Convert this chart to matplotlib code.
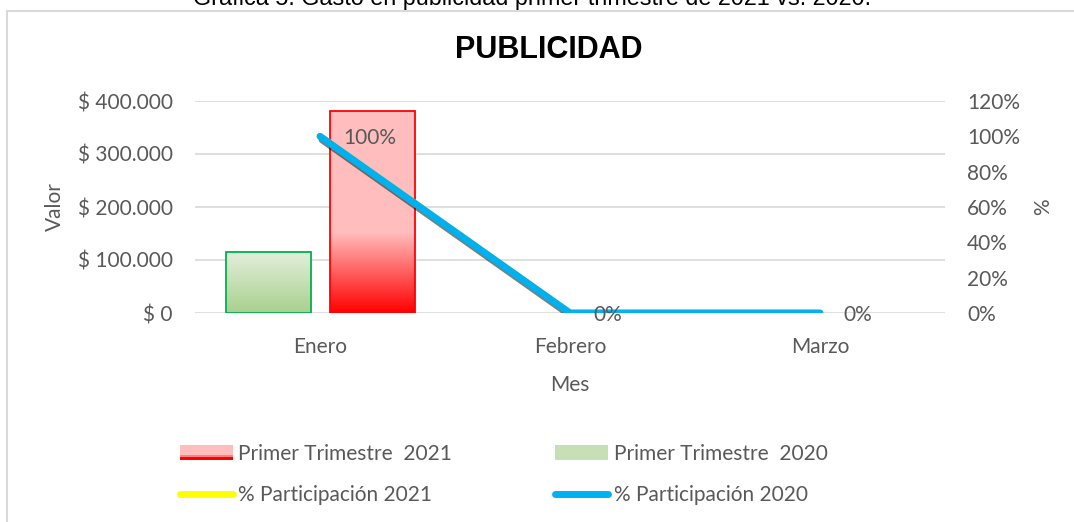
import numpy as np
import matplotlib.pyplot as plt
import matplotlib.patheffects as pe
from matplotlib.patches import Rectangle
from matplotlib.lines import Line2D
from matplotlib.legend_handler import HandlerBase
from matplotlib.colors import LinearSegmentedColormap

meses = ["Enero", "Febrero", "Marzo"]
gasto_2021 = [381000, 0, 0]
gasto_2020 = [115000, 0, 0]
part_2021 = [1.0, 0.0, 0.0]
part_2020 = [1.0, 0.0, 0.0]
etiquetas = ["100%", "0%", "0%"]

gris = "#595959"
font = "Lato"
fs = 15

fig = plt.figure(figsize=(10.74, 5.22), dpi=100)
W, H = 1074, 522

# chart border
fig.patches.append(Rectangle((7 / W, -0.1), 1.2, (H - 11) / H + 0.1, transform=fig.transFigure,
                             fill=False, edgecolor="#D9D9D9", lw=1.5))

fig.text(193 / W, (H - 5) / H, "Gráfica 5. Gasto en publicidad primer trimestre de 2021 vs. 2020.",
         family="Liberation Sans", fontsize=16.8, color="black", ha="left", va="baseline")
fig.text(549 / W, (H - 50) / H, "PUBLICIDAD", family="Liberation Sans", fontweight="bold",
         fontsize=22, color="black", ha="center", va="center")

ax = fig.add_axes([195 / W, (H - 313) / H, 750 / W, 212 / H])
x = np.arange(len(meses))
ancho = 0.34

cm_rojo = LinearSegmentedColormap.from_list("rojo", [(0, "#FF0000"), (0.4, "#FFBDBD"), (1, "#FFBDBD")])
cm_verde = LinearSegmentedColormap.from_list("verde", ["#A9D08E", "#E2EFDA"])

b20 = ax.bar(x - 0.208, gasto_2020, ancho, facecolor="none", edgecolor="#00B050", lw=1.3, zorder=3)
b21 = ax.bar(x + 0.208, gasto_2021, ancho, facecolor="none", edgecolor="#FF0000", lw=1.3, zorder=3)
grad = np.linspace(0, 1, 256).reshape(-1, 1)
for bars, cm in ((b20, cm_verde), (b21, cm_rojo)):
    for p in bars:
        if p.get_height() <= 0:
            p.set_visible(False)
            continue
        x0, y0 = p.get_x(), p.get_y()
        im = ax.imshow(grad, cmap=cm, origin="lower", aspect="auto", zorder=2,
                       extent=[x0, x0 + p.get_width(), y0, y0 + p.get_height()])
        im.set_clip_path(p)

ax.set_xlim(-0.5, 2.5)
ax.set_ylim(0, 400000)
ax.set_yticks(np.arange(0, 400001, 100000))
ax.set_yticklabels(["$ 0", "$ 100.000", "$ 200.000", "$ 300.000", "$ 400.000"])
ax.set_xticks(x)
ax.set_xticklabels(meses)
ax.grid(axis="y", color="#D9D9D9", lw=1.2, zorder=0)
ax.set_axisbelow(True)
for s in ax.spines.values():
    s.set_visible(False)
ax.tick_params(length=0, colors=gris, labelsize=fs)
ax.tick_params(axis="y", pad=16)
ax.tick_params(axis="x", pad=17)
for t in ax.get_xticklabels() + ax.get_yticklabels():
    t.set_family(font)
ax.set_ylabel("Valor", family=font, fontsize=fs, color=gris)
ax.yaxis.set_label_coords((55 - 195) / 750, 0.5)
ax.set_xlabel("Mes", family=font, fontsize=fs, color=gris)
ax.xaxis.set_label_coords(0.5, -(385 - 313) / 212)
ax.xaxis.label.set_va("center")
ax.yaxis.label.set_va("center")

ax2 = ax.twinx()
ax2.set_ylim(0, 1.2)
ax2.set_yticks(np.arange(0, 1.21, 0.2))
ax2.set_yticklabels([f"{int(round(v * 100))}%" for v in np.arange(0, 1.21, 0.2)])
for s in ax2.spines.values():
    s.set_visible(False)
ax2.tick_params(length=0, colors=gris, labelsize=fs, pad=16)
for t in ax2.get_yticklabels():
    t.set_family(font)
ax2.set_ylabel("%", family=font, fontsize=fs, color=gris, va="center")
ax2.yaxis.set_label_coords((1043 - 195) / 750, 0.5)

sombra = [pe.SimpleLineShadow(offset=(1.5, -2.5), shadow_color="black", alpha=0.5), pe.Normal()]
ax2.plot(x, part_2021, color="#FFFF00", lw=5, solid_capstyle="round", zorder=4)
ax2.plot(x, part_2020, color="#00B0F0", lw=5, solid_capstyle="round", zorder=5, path_effects=sombra)
for xi, yi, lab in zip(x, part_2020, etiquetas):
    ax2.annotate(lab, (xi, yi), xytext=(23, -2), textcoords="offset pixels", ha="left", va="center",
                 family=font, fontsize=fs, color=gris, zorder=6)


class HandlerGradiente(HandlerBase):
    def create_artists(self, legend, orig, xd, yd, w, h, fontsize, trans):
        arts = [Rectangle((xd, yd), w, h, facecolor="#FFBDBD", edgecolor="none", transform=trans)]
        arts.append(Rectangle((xd, yd + h * 0.2), w, h * 0.15, facecolor="#FF8080", edgecolor="none", transform=trans))
        arts.append(Rectangle((xd, yd), w, h * 0.2, facecolor="#FF0000", edgecolor="none", transform=trans))
        return arts


h21 = Rectangle((0, 0), 1, 1)
h20 = Rectangle((0, 0), 1, 1, facecolor="#C5E0B4", edgecolor="none")
l21 = Line2D([], [], color="#FFFF00", lw=5, solid_capstyle="round")
l20 = Line2D([], [], color="#00B0F0", lw=5, solid_capstyle="round")
leg = fig.legend([h21, l21, h20, l20],
                 ["Primer Trimestre  2021", "% Participación 2021", "Primer Trimestre  2020", "% Participación 2020"],
                 handler_map={h21: HandlerGradiente()}, ncol=2, loc="upper left",
                 bbox_to_anchor=(180 / W, (H - 444) / H), frameon=False,
                 prop={"family": font, "size": fs}, labelcolor=gris,
                 handlelength=2.55, handleheight=0.7, handletextpad=0.25,
                 columnspacing=4.95, labelspacing=1.0, borderpad=0, borderaxespad=0)

fig.savefig("out.png", dpi=100)
